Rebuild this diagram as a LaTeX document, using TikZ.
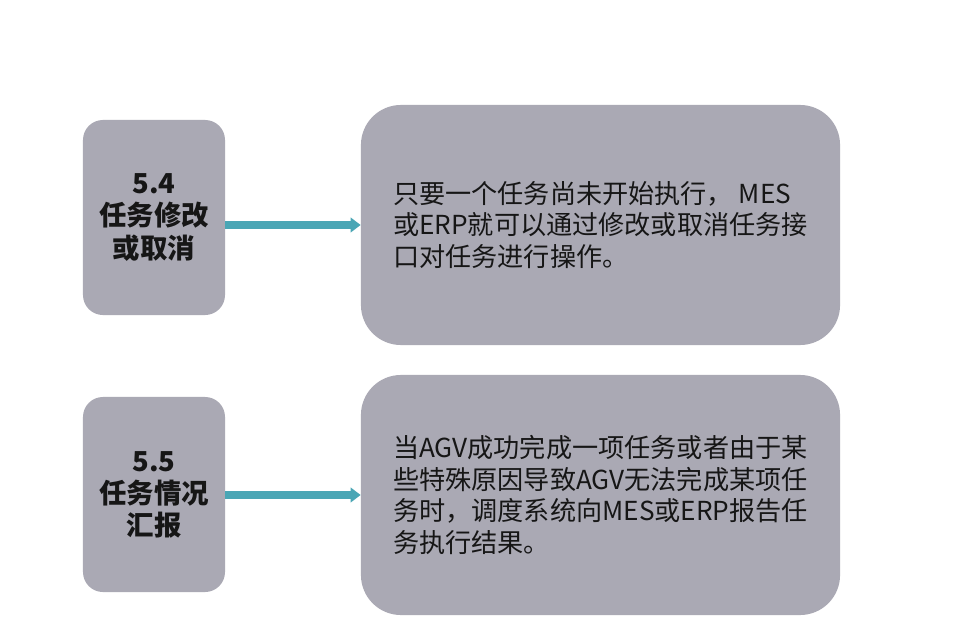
\documentclass[tikz,border=0pt]{standalone}
\usepackage{fontspec}
\setmainfont{Noto Sans CJK SC}
\usetikzlibrary{arrows.meta,positioning}
\definecolor{TaskGray}{HTML}{AAA9B4}
\definecolor{TaskTeal}{HTML}{4AA6B5}
\definecolor{TaskInk}{HTML}{161616}
\tikzset{
  idbox/.style={fill=TaskGray, rounded corners=0.5cm, minimum width=3.55cm,
                minimum height=4.875cm, align=center, inner sep=0pt,
                font=\fontsize{19.5}{22.8}\selectfont\bfseries\color{TaskInk}},
  descbox/.style={fill=TaskGray, rounded corners=1cm, minimum width=11.975cm,
                  minimum height=6cm, align=left, inner sep=0pt,
                  font=\fontsize{18.6}{22.6}\selectfont\color{TaskInk}},
  flow/.style={-{Triangle[length=2.5mm,width=3.6mm]}, line width=5pt, TaskTeal},
}

\begin{document}
\begin{tikzpicture}[x=0.025cm, y=-0.025cm]
  \useasboundingbox[fill=white] (0,0) rectangle (960,637);

  % \taskrow{name}{y of id box}{y of text box}{id text}{description}
  \newcommand{\taskrow}[5]{%
    \node[idbox] (id#1) at (154,#2) {#4};
    \node[descbox] (desc#1) at (600.5,#3) {#5};
    \draw[flow] (id#1.east |- desc#1.west) -- (desc#1.west);
  }

  \taskrow{54}{217.5}{225}{5.4\\任务修改\\或取消}
    {只要一个任务尚未开始执行， MES\\或ERP就可以通过修改或取消任务接\\口对任务进行操作。}
  \taskrow{55}{494.5}{495}{5.5\\任务情况\\汇报}
    {当AGV成功完成一项任务或者由于某\\些特殊原因导致AGV无法完成某项任\\务时，调度系统向MES或ERP报告任\\务执行结果。}

\end{tikzpicture}
\end{document}
